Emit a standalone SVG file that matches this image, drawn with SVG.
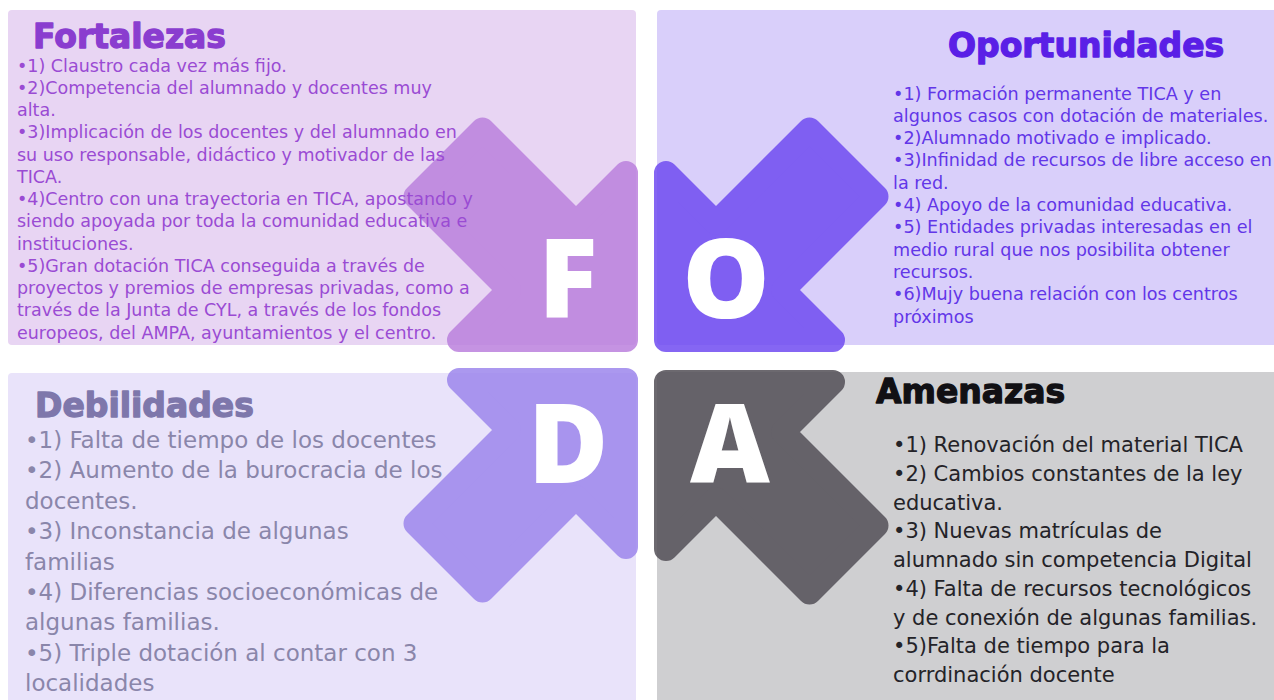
<svg xmlns="http://www.w3.org/2000/svg" xmlns:xlink="http://www.w3.org/1999/xlink" width="1274" height="700" viewBox="0 0 1274 700">
<style>
.title{font-family:"DejaVu Sans","Liberation Sans",sans-serif;font-weight:bold;font-size:33px;stroke-width:1.3px;stroke-linejoin:round}
.body{font-family:"DejaVu Sans","Liberation Sans",sans-serif}
.letter{font-family:"Open Sans","Liberation Sans",sans-serif;font-weight:800;font-size:110px;fill:#ffffff;text-anchor:middle}
.f-t{fill:#8A3DCF;stroke:#8A3DCF}.f-b{fill:#9A4BD3;font-size:17.5px}
.o-t{fill:#5A1FE6;stroke:#5A1FE6}.o-b{fill:#6236E8;font-size:17.6px}
.d-t{fill:#7E77AB;stroke:#7E77AB}.d-b{fill:#8A86AA;font-size:23px}
.a-t{fill:#111014;stroke:#111014}.a-b{fill:#242328;font-size:21px}
</style>
<defs>
<path id="arrow" d="M -12,-12 L -12,-179 L -62,-129 L -155.5,-222.5 L -222.5,-155.5 L -129,-62 L -179,-12 Z" stroke-width="24" stroke-linejoin="round"/>
</defs>
<rect width="1274" height="700" fill="#ffffff"/>
<g id="panels">
<rect x="8" y="10" width="628" height="335" rx="4" fill="#E8D5F3"/>
<rect x="657" y="10" width="625" height="335" rx="4" fill="#D9CFFA"/>
<rect x="8" y="373" width="628" height="335" rx="4" fill="#E9E3FA"/>
<rect x="657" y="372" width="625" height="336" rx="4" fill="#CFCFD1"/>
</g>
<g id="arrows">
<g opacity="0.85"><use xlink:href="#arrow" transform="translate(638,352)" style="fill:#BB81DD;stroke:#BB81DD"/></g>
<g opacity="0.85"><use xlink:href="#arrow" transform="translate(654,352) scale(-1,1)" style="fill:#704CF1;stroke:#704CF1"/></g>
<g opacity="0.85"><use xlink:href="#arrow" transform="translate(638,368) scale(1,-1)" style="fill:#9D87ED;stroke:#9D87ED"/></g>
<g opacity="0.85"><use xlink:href="#arrow" transform="translate(654,370) scale(-1,-1)" style="fill:#534F57;stroke:#534F57"/></g>
</g>
<g id="letters">
<text class="letter" x="568" y="318">F</text>
<text class="letter" x="726" y="318">O</text>
<text class="letter" x="568" y="483">D</text>
<text class="letter" x="730" y="483">A</text>
</g>
<g id="fortalezas">
<text class="title f-t" x="33" y="48">Fortalezas</text>
<text class="body f-b" x="17" y="71.5">•1) Claustro cada vez más fijo.</text>
<text class="body f-b" x="17" y="93.75">•2)Competencia del alumnado y docentes muy</text>
<text class="body f-b" x="17" y="116">alta.</text>
<text class="body f-b" x="17" y="138.25">•3)Implicación de los docentes y del alumnado en</text>
<text class="body f-b" x="17" y="160.5">su uso responsable, didáctico y motivador de las</text>
<text class="body f-b" x="17" y="182.75">TICA.</text>
<text class="body f-b" x="17" y="205">•4)Centro con una trayectoria en TICA, apostando y</text>
<text class="body f-b" x="17" y="227.25">siendo apoyada por toda la comunidad educativa e</text>
<text class="body f-b" x="17" y="249.5">instituciones.</text>
<text class="body f-b" x="17" y="271.75">•5)Gran dotación TICA conseguida a través de</text>
<text class="body f-b" x="17" y="294">proyectos y premios de empresas privadas, como a</text>
<text class="body f-b" x="17" y="316.25">través de la Junta de CYL, a través de los fondos</text>
<text class="body f-b" x="17" y="338.5">europeos, del AMPA, ayuntamientos y el centro.</text>
</g>
<g id="oportunidades">
<text class="title o-t" x="948" y="57">Oportunidades</text>
<text class="body o-b" x="893" y="99.5">•1) Formación permanente TICA y en</text>
<text class="body o-b" x="893" y="121.8">algunos casos con dotación de materiales.</text>
<text class="body o-b" x="893" y="144.1">•2)Alumnado motivado e implicado.</text>
<text class="body o-b" x="893" y="166.4">•3)Infinidad de recursos de libre acceso en</text>
<text class="body o-b" x="893" y="188.7">la red.</text>
<text class="body o-b" x="893" y="211">•4) Apoyo de la comunidad educativa.</text>
<text class="body o-b" x="893" y="233.3">•5) Entidades privadas interesadas en el</text>
<text class="body o-b" x="893" y="255.6">medio rural que nos posibilita obtener</text>
<text class="body o-b" x="893" y="277.9">recursos.</text>
<text class="body o-b" x="893" y="300.2">•6)Mujy buena relación con los centros</text>
<text class="body o-b" x="893" y="322.5">próximos</text>
</g>
<g id="debilidades">
<text class="title d-t" x="35" y="417">Debilidades</text>
<text class="body d-b" x="25" y="448">•1) Falta de tiempo de los docentes</text>
<text class="body d-b" x="25" y="478.4">•2) Aumento de la burocracia de los</text>
<text class="body d-b" x="25" y="508.8">docentes.</text>
<text class="body d-b" x="25" y="539.2">•3) Inconstancia de algunas</text>
<text class="body d-b" x="25" y="569.6">familias</text>
<text class="body d-b" x="25" y="600">•4) Diferencias socioeconómicas de</text>
<text class="body d-b" x="25" y="630.4">algunas familias.</text>
<text class="body d-b" x="25" y="660.8">•5) Triple dotación al contar con 3</text>
<text class="body d-b" x="25" y="691.2">localidades</text>
</g>
<g id="amenazas">
<text class="title a-t" x="876" y="403">Amenazas</text>
<text class="body a-b" x="893" y="452">•1) Renovación del material TICA</text>
<text class="body a-b" x="893" y="480.75">•2) Cambios constantes de la ley</text>
<text class="body a-b" x="893" y="509.5">educativa.</text>
<text class="body a-b" x="893" y="538.25">•3) Nuevas matrículas de</text>
<text class="body a-b" x="893" y="567">alumnado sin competencia Digital</text>
<text class="body a-b" x="893" y="595.75">•4) Falta de recursos tecnológicos</text>
<text class="body a-b" x="893" y="624.5">y de conexión de algunas familias.</text>
<text class="body a-b" x="893" y="653.25">•5)Falta de tiempo para la</text>
<text class="body a-b" x="893" y="682">corrdinación docente</text>
</g>
</svg>
